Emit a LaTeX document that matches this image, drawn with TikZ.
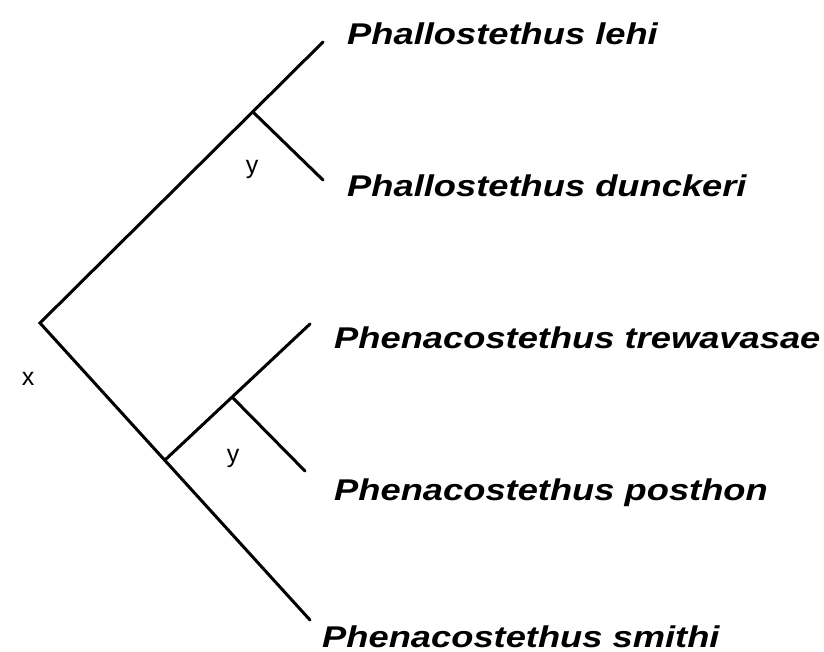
\documentclass[tikz,border=0pt]{standalone}
\usepackage{fontspec}
\setmainfont{Liberation Sans}
\newfontfamily\taxonfont[FakeStretch=1.21]{Liberation Sans}
\usetikzlibrary{positioning}
\tikzset{
  branch/.style={line width=3pt, line cap=round, draw=black},
  taxon/.style={anchor=base west, inner sep=0pt,
                font=\taxonfont\fontsize{30}{30}\selectfont\bfseries\itshape},
  clade/.style={anchor=base, inner sep=0pt, font=\fontsize{25}{25}\selectfont},
}

\begin{document}
\begin{tikzpicture}[x=1pt,y=-1pt]
  \useasboundingbox (0,0) rectangle (824,652);
  % inner nodes of the tree
  \coordinate (root) at (40,323);
  \coordinate (nphal) at (254,113);
  \coordinate (nphen) at (165,460);
  \coordinate (npost) at (233,398);
  % tips
  \coordinate (tlehi) at (323,42);
  \coordinate (tdunc) at (323,180);
  \coordinate (ttrew) at (310,324);
  \coordinate (tpost) at (305,471);
  \coordinate (tsmit) at (310,620);

  \draw[branch] (tlehi) -- (root) -- (tsmit);
  \draw[branch] (nphal) -- (tdunc);
  \draw[branch] (nphen) -- (ttrew);
  \draw[branch] (npost) -- (tpost);

  \node[taxon] (lehi) at (347,45) {Phallostethus lehi};
  \node[taxon] (dunc) at (347,197) {Phallostethus dunckeri};
  \node[taxon] (trew) at (334,348) {Phenacostethus trewavasae};
  \node[taxon] (post) at (334,500) {Phenacostethus posthon};
  \node[taxon] (smit) at (322,647) {Phenacostethus smithi};

  \node[clade] (x) at (28,385) {x};
  \node[clade] (y1) at (252,174) {y};
  \node[clade] (y2) at (233,462) {y};
\end{tikzpicture}
\end{document}
